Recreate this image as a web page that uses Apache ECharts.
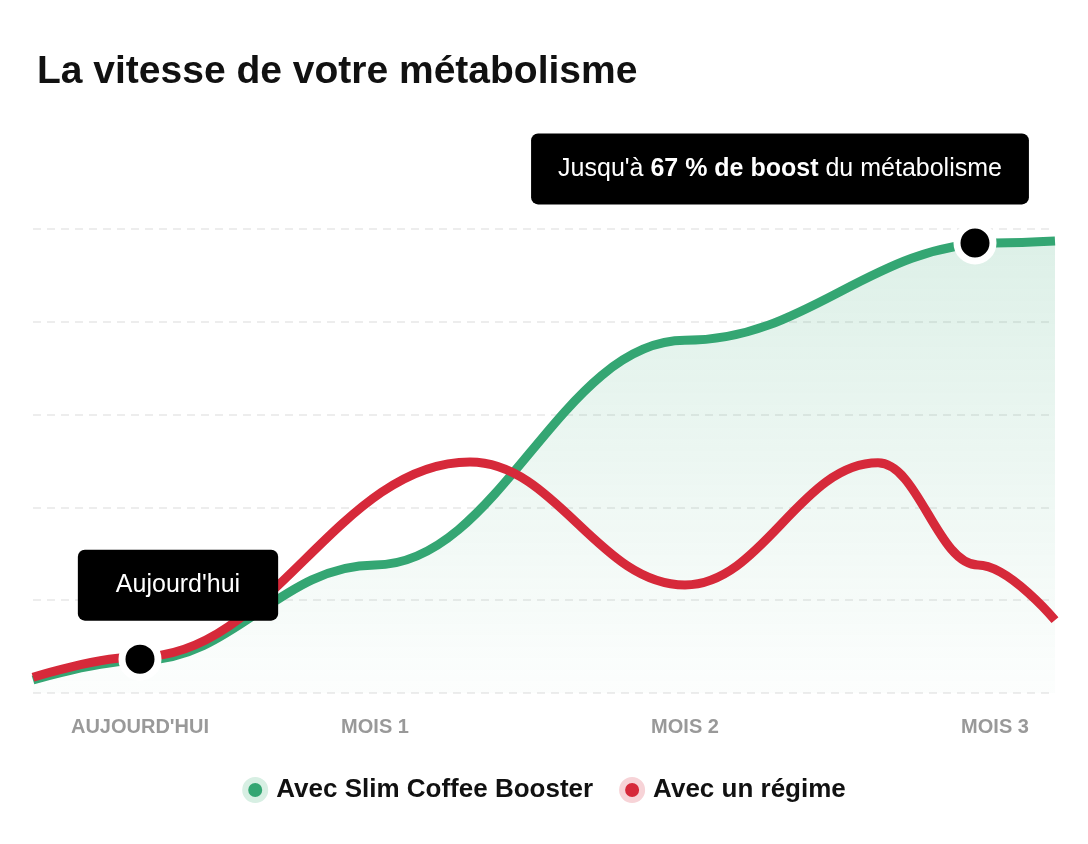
<!DOCTYPE html>
<html>
<head>
<meta charset="utf-8">
<script src="https://cdn.jsdelivr.net/npm/echarts@6/dist/echarts.min.js"></script>
<style>
  html, body { margin: 0; background: #fff; }
  #chart { width: 1088px; height: 844px; }
</style>
</head>
<body>
<div id="chart"></div>
<script>
const chart = echarts.init(document.getElementById('chart'));

// x: position along the timeline, y: metabolism speed (0-100)
const slim = [[0, 2.8], [107, 7], [342, 27.6], [652, 76], [962, 97], [1022, 97.4]];
const regime = [[0, 3.4], [107, 7.8], [437, 49.8], [652, 23.3], [845, 49.6], [945, 27.6], [1022, 15.7]];
const ticks = { 107: "AUJOURD'HUI", 342: 'MOIS 1', 652: 'MOIS 2', 962: 'MOIS 3' };

const boxLabel = {
  show: true,
  color: '#fff',
  fontSize: 25,
  fontFamily: 'Liberation Sans, Arial, sans-serif',
  backgroundColor: '#000',
  borderRadius: 7,
  padding: [23, 27],
  opacity: 1,
  rich: { b: { fontWeight: 'bold', fontSize: 25, color: '#fff' } }
};

chart.setOption({
  textStyle: { fontFamily: 'Liberation Sans, Arial, sans-serif' },
  title: {
    text: 'La vitesse de votre métabolisme',
    left: 32, top: 48,
    textStyle: { fontSize: 39, fontWeight: 'bold', color: '#111' }
  },
  grid: { left: 33, right: 33, top: 229, bottom: 151 },
  xAxis: {
    type: 'value', min: 0, max: 1022,
    splitLine: { show: false }, axisLine: { show: false }, axisTick: { show: false },
    axisLabel: {
      customValues: [107, 342, 652, 962],
      formatter: v => ticks[v] || '',
      color: '#999', fontWeight: 'bold', fontSize: 20, margin: 24
    }
  },
  yAxis: {
    type: 'value', min: 0, max: 100, interval: 20,
    axisLabel: { show: false }, axisLine: { show: false }, axisTick: { show: false },
    splitLine: { lineStyle: { type: [8, 6], color: '#e8e8e8', width: 1.5 } }
  },
  legend: {
    bottom: 36, left: 'center', icon: 'circle', itemWidth: 20, itemHeight: 20, itemGap: 26,
    textStyle: { fontSize: 26, fontWeight: 'bold', color: '#111', padding: [0, 0, 0, 6] },
    data: [
      { name: 'Avec Slim Coffee Booster', itemStyle: { color: '#34a673', borderColor: '#d7efe3', borderWidth: 6 } },
      { name: 'Avec un régime', itemStyle: { color: '#d6293a', borderColor: '#f7d3d7', borderWidth: 6 } }
    ]
  },
  series: [
    {
      name: 'Avec Slim Coffee Booster', type: 'line', data: slim, smooth: 0.4, smoothMonotone: 'x',
      showSymbol: false, color: '#34a673',
      lineStyle: { width: 9, color: '#34a673' },
      areaStyle: {
        color: new echarts.graphic.LinearGradient(0, 0, 0, 1, [
          { offset: 0, color: 'rgba(52,166,115,0.24)' },
          { offset: 1, color: 'rgba(52,166,115,0.02)' }
        ])
      },
      z: 2
    },
    {
      name: 'Avec un régime', type: 'line', data: regime, smooth: 0.4, smoothMonotone: 'x',
      showSymbol: false, color: '#d6293a',
      lineStyle: { width: 9, color: '#d6293a' },
      z: 3
    },
    {
      type: 'scatter', z: 5, symbolSize: 36,
      itemStyle: { color: '#000', borderColor: '#fff', borderWidth: 7, opacity: 1 },
      emphasis: { disabled: true },
      data: [
        { value: [107, 7.3], label: Object.assign({}, boxLabel, { formatter: "Aujourd'hui", position: 'top', offset: [38, -12], padding: [23, 38] }) },
        { value: [942, 97], label: Object.assign({}, boxLabel, { formatter: "Jusqu'à {b|67 % de boost} du métabolisme", position: 'top', offset: [-195, -12] }) }
      ]
    }
  ]
});
</script>
</body>
</html>
